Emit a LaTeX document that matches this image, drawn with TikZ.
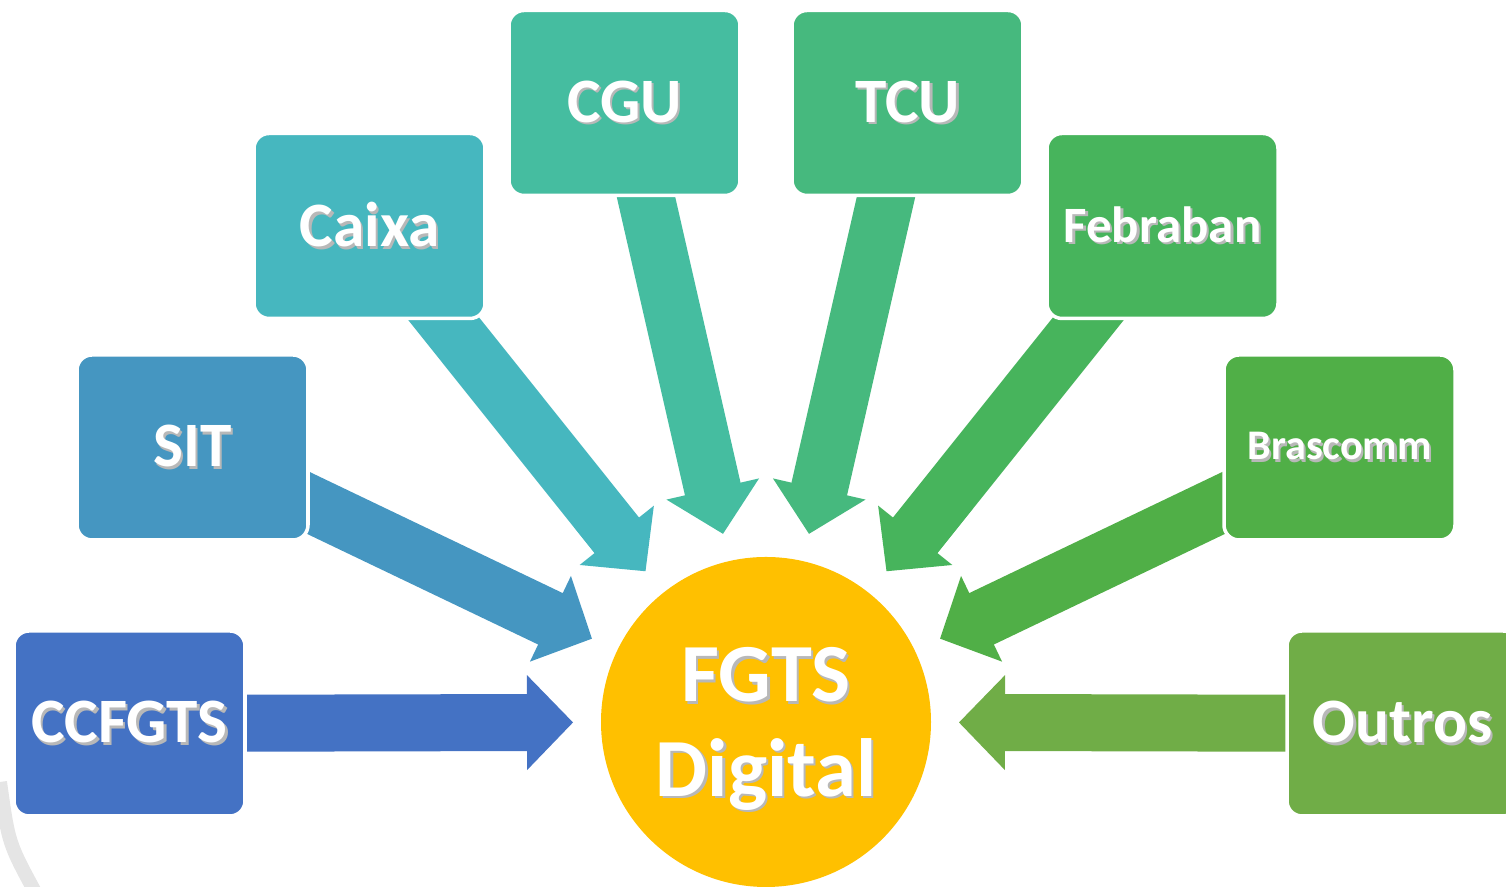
\documentclass[tikz,border=0pt]{standalone}
\usepackage{fontspec}
\setmainfont{Carlito}
\usetikzlibrary{calc,backgrounds}

\definecolor{cCcfgts}{HTML}{4472C4}
\definecolor{cSit}{HTML}{4596C1}
\definecolor{cCaixa}{HTML}{46B7BF}
\definecolor{cCgu}{HTML}{45BDA0}
\definecolor{cTcu}{HTML}{46B97E}
\definecolor{cFebraban}{HTML}{47B45C}
\definecolor{cBrascomm}{HTML}{50AF47}
\definecolor{cOutros}{HTML}{70AD47}
\definecolor{cFgts}{HTML}{FFC000}

% texto branco com sombra
\newcommand{\shd}[1]{\makebox[0pt][l]{\hspace{0.7pt}\raisebox{-0.7pt}{\textcolor{black!28}{#1}}}#1}

% seta larga: da caixa #1 ate o circulo
\newcommand{\fatarrow}[2]{%
  \coordinate (tip-#1) at ($(fgts.center)!1.93cm!(#1.center)$);
  \coordinate (base-#1) at ($(tip-#1)!0.46cm!(#1.center)$);
  \fill[#2] ($(#1.center)!0.285cm!90:(tip-#1)$) -- ($(base-#1)!0.285cm!90:(tip-#1)$)
    -- ($(base-#1)!0.475cm!90:(tip-#1)$) -- (tip-#1) -- ($(base-#1)!0.475cm!-90:(tip-#1)$)
    -- ($(base-#1)!0.285cm!-90:(tip-#1)$) -- ($(#1.center)!0.285cm!-90:(tip-#1)$) -- cycle;
}

\tikzset{
  orgbox/.style={rectangle, rounded corners=0.15cm, minimum width=2.31cm, minimum height=1.85cm,
    inner sep=0pt, draw=white, line width=1pt, text=white, font=\fontsize{18}{21}\selectfont\bfseries},
  fgtscircle/.style={circle, fill=cFgts, minimum size=3.3cm, inner sep=0pt, align=center, text depth=0pt,
    text=white, font=\fontsize{23.5}{27}\selectfont\bfseries}
}

\begin{document}
\begin{tikzpicture}
		\useasboundingbox (0,0) rectangle (15.06,8.87);
		\clip (0,0) rectangle (15.06,8.87);
		
		%Circulo central
		\node[fgtscircle] (fgts) at (7.66,1.65) {\shd{FGTS}\\\shd{Digital}};
		
		%Caixas
		\node[orgbox, fill=cCcfgts] (ccfgts) at (1.295,1.635) {\shd{CCFGTS}};
		\node[orgbox, fill=cSit] (sit) at (1.925,4.395) {\shd{SIT}};
		\node[orgbox, fill=cCaixa] (caixa) at (3.695,6.61) {\shd{Caixa}};
		\node[orgbox, fill=cCgu] (cgu) at (6.245,7.84) {\shd{CGU}};
		\node[orgbox, fill=cTcu] (tcu) at (9.075,7.84) {\shd{TCU}};
		\node[orgbox, fill=cFebraban, font=\fontsize{14.5}{17}\selectfont\bfseries] (febraban) at (11.625,6.61) {\shd{Febraban}};
		\node[orgbox, fill=cBrascomm, font=\fontsize{12}{14}\selectfont\bfseries] (brascomm) at (13.395,4.395) {\shd{Brascomm}};
		\node[orgbox, fill=cOutros] (outros) at (14.025,1.635) {\shd{Outros}};
		
		%Setas (atras das caixas)
		\begin{pgfonlayer}{background}
			\draw[line width=0.14cm, color=black!10] (0,1.05) .. controls (0.085,0.44) .. (0.35,-0.05);
			\fatarrow{ccfgts}{cCcfgts}
			\fatarrow{sit}{cSit}
			\fatarrow{caixa}{cCaixa}
			\fatarrow{cgu}{cCgu}
			\fatarrow{tcu}{cTcu}
			\fatarrow{febraban}{cFebraban}
			\fatarrow{brascomm}{cBrascomm}
			\fatarrow{outros}{cOutros}
		\end{pgfonlayer}
	\end{tikzpicture}
\end{document}
